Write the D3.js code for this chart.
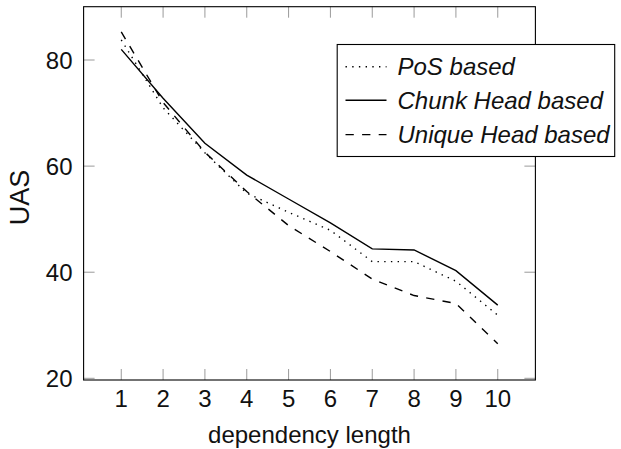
<!DOCTYPE html>
<html>
<head>
<meta charset="utf-8">
<script src="https://cdn.jsdelivr.net/npm/d3@7/dist/d3.min.js"></script>
<style>
  html, body { margin: 0; padding: 0; background: #fff; }
  svg { display: block; }
  text { font-family: "Liberation Sans", Arial, sans-serif; fill: #111; }
</style>
</head>
<body>
<svg id="chart" width="621" height="449"></svg>
<script>
// ---- data ----
const lengths = [1, 2, 3, 4, 5, 6, 7, 8, 9, 10];
const posBased = [83.8, 71.0, 62.5, 54.9, 51.3, 47.9, 42.0, 42.0, 38.3, 31.9];
const chunkHeadBased = [82.0, 72.8, 64.3, 58.3, 53.8, 49.3, 44.4, 44.2, 40.3, 33.8];
const uniqueHeadBased = [85.3, 72.0, 62.6, 55.2, 48.8, 43.9, 38.7, 35.6, 34.1, 26.5];
const xTicks = [1, 2, 3, 4, 5, 6, 7, 8, 9, 10];
const yTicks = [20, 40, 60, 80];
const seriesNames = ["PoS based", "Chunk Head based", "Unique Head based"];

(function () {
const series = [
  { name: seriesNames[0], values: posBased, dash: "1.4,5.3" },
  { name: seriesNames[1], values: chunkHeadBased, dash: null },
  { name: seriesNames[2], values: uniqueHeadBased, dash: "8.3,8.3" }
];

// ---- layout ----
const pL = 83.6, pR = 535.4, pT = 6.7, pB = 380;
const svg = d3.select("#chart");

const x = d3.scaleLinear().domain([0.1, 10.9]).range([pL, pR]);
const y = d3.scaleLinear().domain([19.68, 90.05]).range([pB, pT]);

const tickLen = 11, tickColor = "#9a9a9a";

const gTicks = svg.append("g");
gTicks.selectAll("line.xb").data(xTicks).enter().append("line")
  .attr("x1", d => x(d)).attr("x2", d => x(d))
  .attr("y1", pB).attr("y2", pB - tickLen)
  .attr("stroke", tickColor).attr("stroke-width", 1);
gTicks.selectAll("line.xt").data(xTicks).enter().append("line")
  .attr("x1", d => x(d)).attr("x2", d => x(d))
  .attr("y1", pT).attr("y2", pT + tickLen)
  .attr("stroke", tickColor).attr("stroke-width", 1);
gTicks.selectAll("line.yl").data(yTicks).enter().append("line")
  .attr("x1", pL).attr("x2", pL + tickLen)
  .attr("y1", d => y(d)).attr("y2", d => y(d))
  .attr("stroke", tickColor).attr("stroke-width", 1);
gTicks.selectAll("line.yr").data(yTicks).enter().append("line")
  .attr("x1", pR).attr("x2", pR - tickLen)
  .attr("y1", d => y(d)).attr("y2", d => y(d))
  .attr("stroke", tickColor).attr("stroke-width", 1);

svg.append("g").selectAll("text").data(xTicks).enter().append("text")
  .attr("x", d => x(d)).attr("y", 407.3)
  .attr("text-anchor", "middle").attr("font-size", 24)
  .text(d => d);
svg.append("g").selectAll("text").data(yTicks).enter().append("text")
  .attr("x", 72.5).attr("y", d => y(d) + 8.6)
  .attr("text-anchor", "end").attr("font-size", 24)
  .text(d => d);

svg.append("text")
  .attr("x", (pL + pR) / 2).attr("y", 443.3)
  .attr("text-anchor", "middle").attr("font-size", 24)
  .text("dependency length");
svg.append("text")
  .attr("transform", "translate(28.5,197.5) rotate(-90)")
  .attr("text-anchor", "middle").attr("font-size", 27)
  .text("UAS");

const line = d3.line()
  .x((d, i) => x(lengths[i]))
  .y(d => y(d));

const gLines = svg.append("g");
series.forEach(s => {
  gLines.append("path")
    .datum(s.values)
    .attr("d", line)
    .attr("fill", "none")
    .attr("stroke", "#000")
    .attr("stroke-width", 1.4)
    .attr("stroke-dasharray", s.dash);
});

svg.append("rect")
  .attr("x", pL).attr("y", pT)
  .attr("width", pR - pL).attr("height", pB - pT)
  .attr("fill", "none").attr("stroke", "#000").attr("stroke-width", 1.1);

const lg = svg.append("g");
lg.append("rect")
  .attr("x", 337.2).attr("y", 44.5)
  .attr("width", 277.5).attr("height", 112)
  .attr("fill", "#fff").attr("stroke", "#000").attr("stroke-width", 1.1);
const rowY = [66.7, 100.2, 134.6];
series.forEach((s, i) => {
  lg.append("line")
    .attr("x1", 345.5).attr("x2", 386.5)
    .attr("y1", rowY[i]).attr("y2", rowY[i])
    .attr("stroke", "#000").attr("stroke-width", 1.4)
    .attr("stroke-dasharray", s.dash);
  lg.append("text")
    .attr("x", 397.5).attr("y", rowY[i] + 8.5)
    .attr("font-size", 24).attr("font-style", "italic")
    .text(s.name);
});
})();
</script>
</body>
</html>
